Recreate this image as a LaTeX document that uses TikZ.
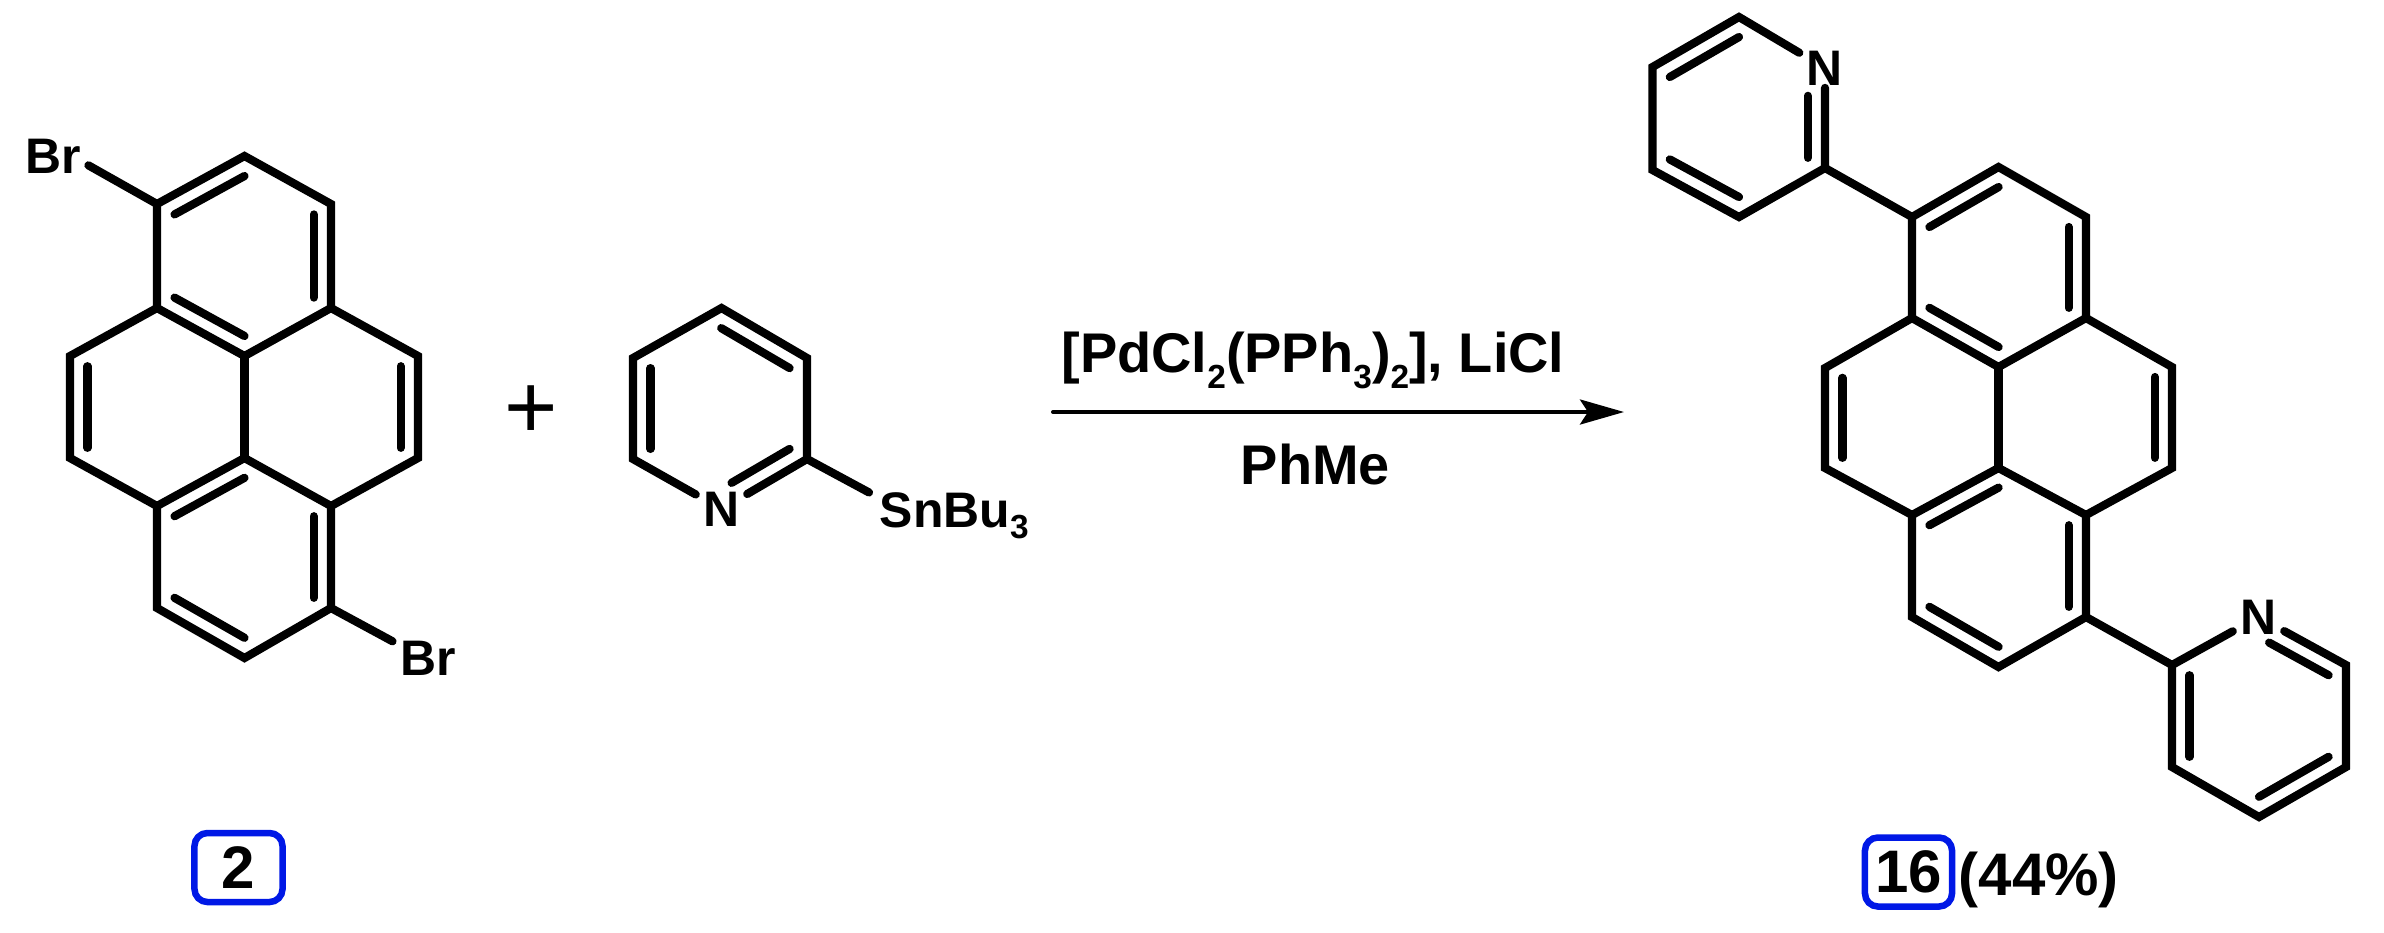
\documentclass[tikz,border=0pt]{standalone}
\usepackage{fontspec}
\setmainfont{Liberation Sans}
\usetikzlibrary{calc,arrows.meta}
\definecolor{boxblue}{RGB}{0,24,230}
\newcommand{\subnum}[2][-.16cm]{\raisebox{#1}{\fontsize{9.5pt}{11pt}\selectfont #2}}
\newcommand{\innerbond}[4][]{\draw[inner,#1] ($(#2)!.2!(#4)$) -- ($(#3)!.2!(#4)$);}
\tikzset{
	bond/.style={line width=.082cm,line cap=round,miter limit=10},
	inner/.style={bond},
	atom/.style={font=\fontsize{14.2pt}{17pt}\selectfont\bfseries,inner xsep=.07cm,inner ysep=.02cm},
	reagent/.style={font=\fontsize{15.9pt}{18pt}\selectfont\bfseries,inner sep=0pt,anchor=base},
	tag/.style={font=\fontsize{17.07pt}{20pt}\selectfont\bfseries,inner sep=0pt},
	tagbox/.style={tag,draw=boxblue,line width=.065cm,rounded corners=.13cm,minimum height=.69cm}
}
\begin{document}
\begin{tikzpicture}[x=.01cm,y=-.01cm]
	\useasboundingbox (0,0) rectangle (2384,932);
	% dibromopyrene
	\coordinate (a0) at (244.5,156);
	\coordinate (a1) at (331,204);
	\coordinate (a2) at (331,308);
	\coordinate (a3) at (418,356);
	\coordinate (a4) at (418,458);
	\coordinate (a5) at (331,506);
	\coordinate (a6) at (331,608);
	\coordinate (a7) at (244.5,658);
	\coordinate (a8) at (157,608);
	\coordinate (a9) at (157,506);
	\coordinate (a10) at (70,458);
	\coordinate (a11) at (70,356);
	\coordinate (a12) at (157,308);
	\coordinate (a13) at (157,204);
	\coordinate (a14) at (244.5,356);
	\coordinate (a15) at (244.5,458);
	\coordinate (at) at (244.5,256);
	\coordinate (ab) at (244.5,557);
	\coordinate (al) at (157,407);
	\coordinate (ar) at (331,407);
	\node[atom,anchor=base west] (br1) at (17.5,173) {Br};
	\node[atom,anchor=base west] (br2) at (392.5,675) {Br};
	
	\draw[bond] (a0) -- (a1) -- (a2) -- (a3) -- (a4) -- (a5) -- (a6) -- (a7) -- (a8) -- (a9) -- (a10) -- (a11) -- (a12) -- (a13) -- cycle;
	\draw[bond] (a12) -- (a14) -- (a2);
	\draw[bond] (a14) -- (a15);
	\draw[bond] (a9) -- (a15) -- (a5);
	\draw[bond] (a13) -- (br1.-15);
	\draw[bond] (a6) -- (br2.155);
	\innerbond{a13}{a0}{at}
	\innerbond{a1}{a2}{at}
	\innerbond{a12}{a14}{at}
	\innerbond{a11}{a10}{al}
	\innerbond{a3}{a4}{ar}
	\innerbond{a9}{a15}{ab}
	\innerbond{a5}{a6}{ab}
	\innerbond{a8}{a7}{ab}
	
	\node[font=\fontsize{26pt}{28pt}\selectfont,inner sep=0pt] (plus) at (531.5,412) {+};
	
	% stannyl pyridine
	\coordinate (b0) at (721.5,308);
	\coordinate (b1) at (807,358);
	\coordinate (b2) at (807,459);
	\coordinate (b3) at (633,459);
	\coordinate (b4) at (633,358);
	\coordinate (bc) at (720,408.5);
	\node[atom] (b5) at (721.5,509) {N};
	\node[atom,inner xsep=.1cm,inner ysep=0pt,anchor=base west] (sn) at (869,527) {SnBu\subnum[-.11cm]{3}};
	
	\draw[bond] (b5) -- (b3) -- (b4) -- (b0) -- (b1) -- (b2) -- (b5);
	\draw[bond] (b2) -- (sn.165);
	\innerbond{b4}{b3}{bc}
	\innerbond{b0}{b1}{bc}
	\innerbond[shorten <=.12cm]{b5}{b2}{bc}
	
	% reaction arrow
	\coordinate (s0) at (1053,412);
	\coordinate (s1) at (1624,412);
	\draw[line width=.04cm,line cap=round,-{Stealth[length=.44cm,width=.25cm,inset=.08cm]}] (s0) -- (s1);
	\node[reagent] (cat) at (1313,372) {[PdCl\subnum{2}(PPh\subnum{3})\subnum{2}], LiCl};
	\node[reagent] (sol) at (1315.5,484) {PhMe};
	
	% product pyrene
	\coordinate (c0) at (1998.5,167);
	\coordinate (c1) at (2086,217);
	\coordinate (c2) at (2086,318);
	\coordinate (c3) at (2172,367);
	\coordinate (c4) at (2172,468);
	\coordinate (c5) at (2086,515);
	\coordinate (c6) at (2086,617);
	\coordinate (c7) at (1998.5,667);
	\coordinate (c8) at (1912,617);
	\coordinate (c9) at (1912,515);
	\coordinate (c10) at (1825,468);
	\coordinate (c11) at (1825,368);
	\coordinate (c12) at (1912,318);
	\coordinate (c13) at (1912,217);
	\coordinate (c14) at (1998.5,367);
	\coordinate (c15) at (1998.5,468);
	\coordinate (ct) at (1999,267);
	\coordinate (cb) at (1999,566);
	\coordinate (cl) at (1912,417);
	\coordinate (cr) at (2086,417);
	
	\draw[bond] (c0) -- (c1) -- (c2) -- (c3) -- (c4) -- (c5) -- (c6) -- (c7) -- (c8) -- (c9) -- (c10) -- (c11) -- (c12) -- (c13) -- cycle;
	\draw[bond] (c12) -- (c14) -- (c2);
	\draw[bond] (c14) -- (c15);
	\draw[bond] (c9) -- (c15) -- (c5);
	\innerbond{c13}{c0}{ct}
	\innerbond{c1}{c2}{ct}
	\innerbond{c12}{c14}{ct}
	\innerbond{c11}{c10}{cl}
	\innerbond{c3}{c4}{cr}
	\innerbond{c9}{c15}{cb}
	\innerbond{c5}{c6}{cb}
	\innerbond{c8}{c7}{cb}
	
	% upper pyridine
	\coordinate (d0) at (1739,17);
	\coordinate (d1) at (1652.5,67);
	\coordinate (d2) at (1652.5,170);
	\coordinate (d3) at (1739,217);
	\coordinate (d4) at (1825,168);
	\coordinate (dc) at (1739,117);
	\node[atom] (d5) at (1825,68) {N};
	
	\draw[bond] (d5) -- (d0) -- (d1) -- (d2) -- (d3) -- (d4) -- (d5);
	\draw[bond] (d4) -- (c13);
	\innerbond{d1}{d0}{dc}
	\innerbond{d2}{d3}{dc}
	\innerbond[shorten >=.18cm]{d4}{d5}{dc}
	
	% lower pyridine
	\coordinate (e0) at (2172,665);
	\coordinate (e1) at (2172,767);
	\coordinate (e2) at (2259,817);
	\coordinate (e3) at (2346,767);
	\coordinate (e4) at (2346,665);
	\coordinate (ec) at (2259,716);
	\node[atom] (e5) at (2258.5,617) {N};
	
	\draw[bond] (e5) -- (e0) -- (e1) -- (e2) -- (e3) -- (e4) -- (e5);
	\draw[bond] (c6) -- (e0);
	\innerbond{e0}{e1}{ec}
	\innerbond{e2}{e3}{ec}
	\innerbond[shorten <=.12cm]{e5}{e4}{ec}
	
	% compound numbers
	\node[tagbox,minimum width=.88cm] (n2) at (238.5,867.5) {2};
	\node[tagbox,minimum width=.87cm] (n16) at (1908.5,872) {16};
	\node[tag,anchor=base west] (yield) at (1958,895) {(44\%)};
\end{tikzpicture}
\end{document}
